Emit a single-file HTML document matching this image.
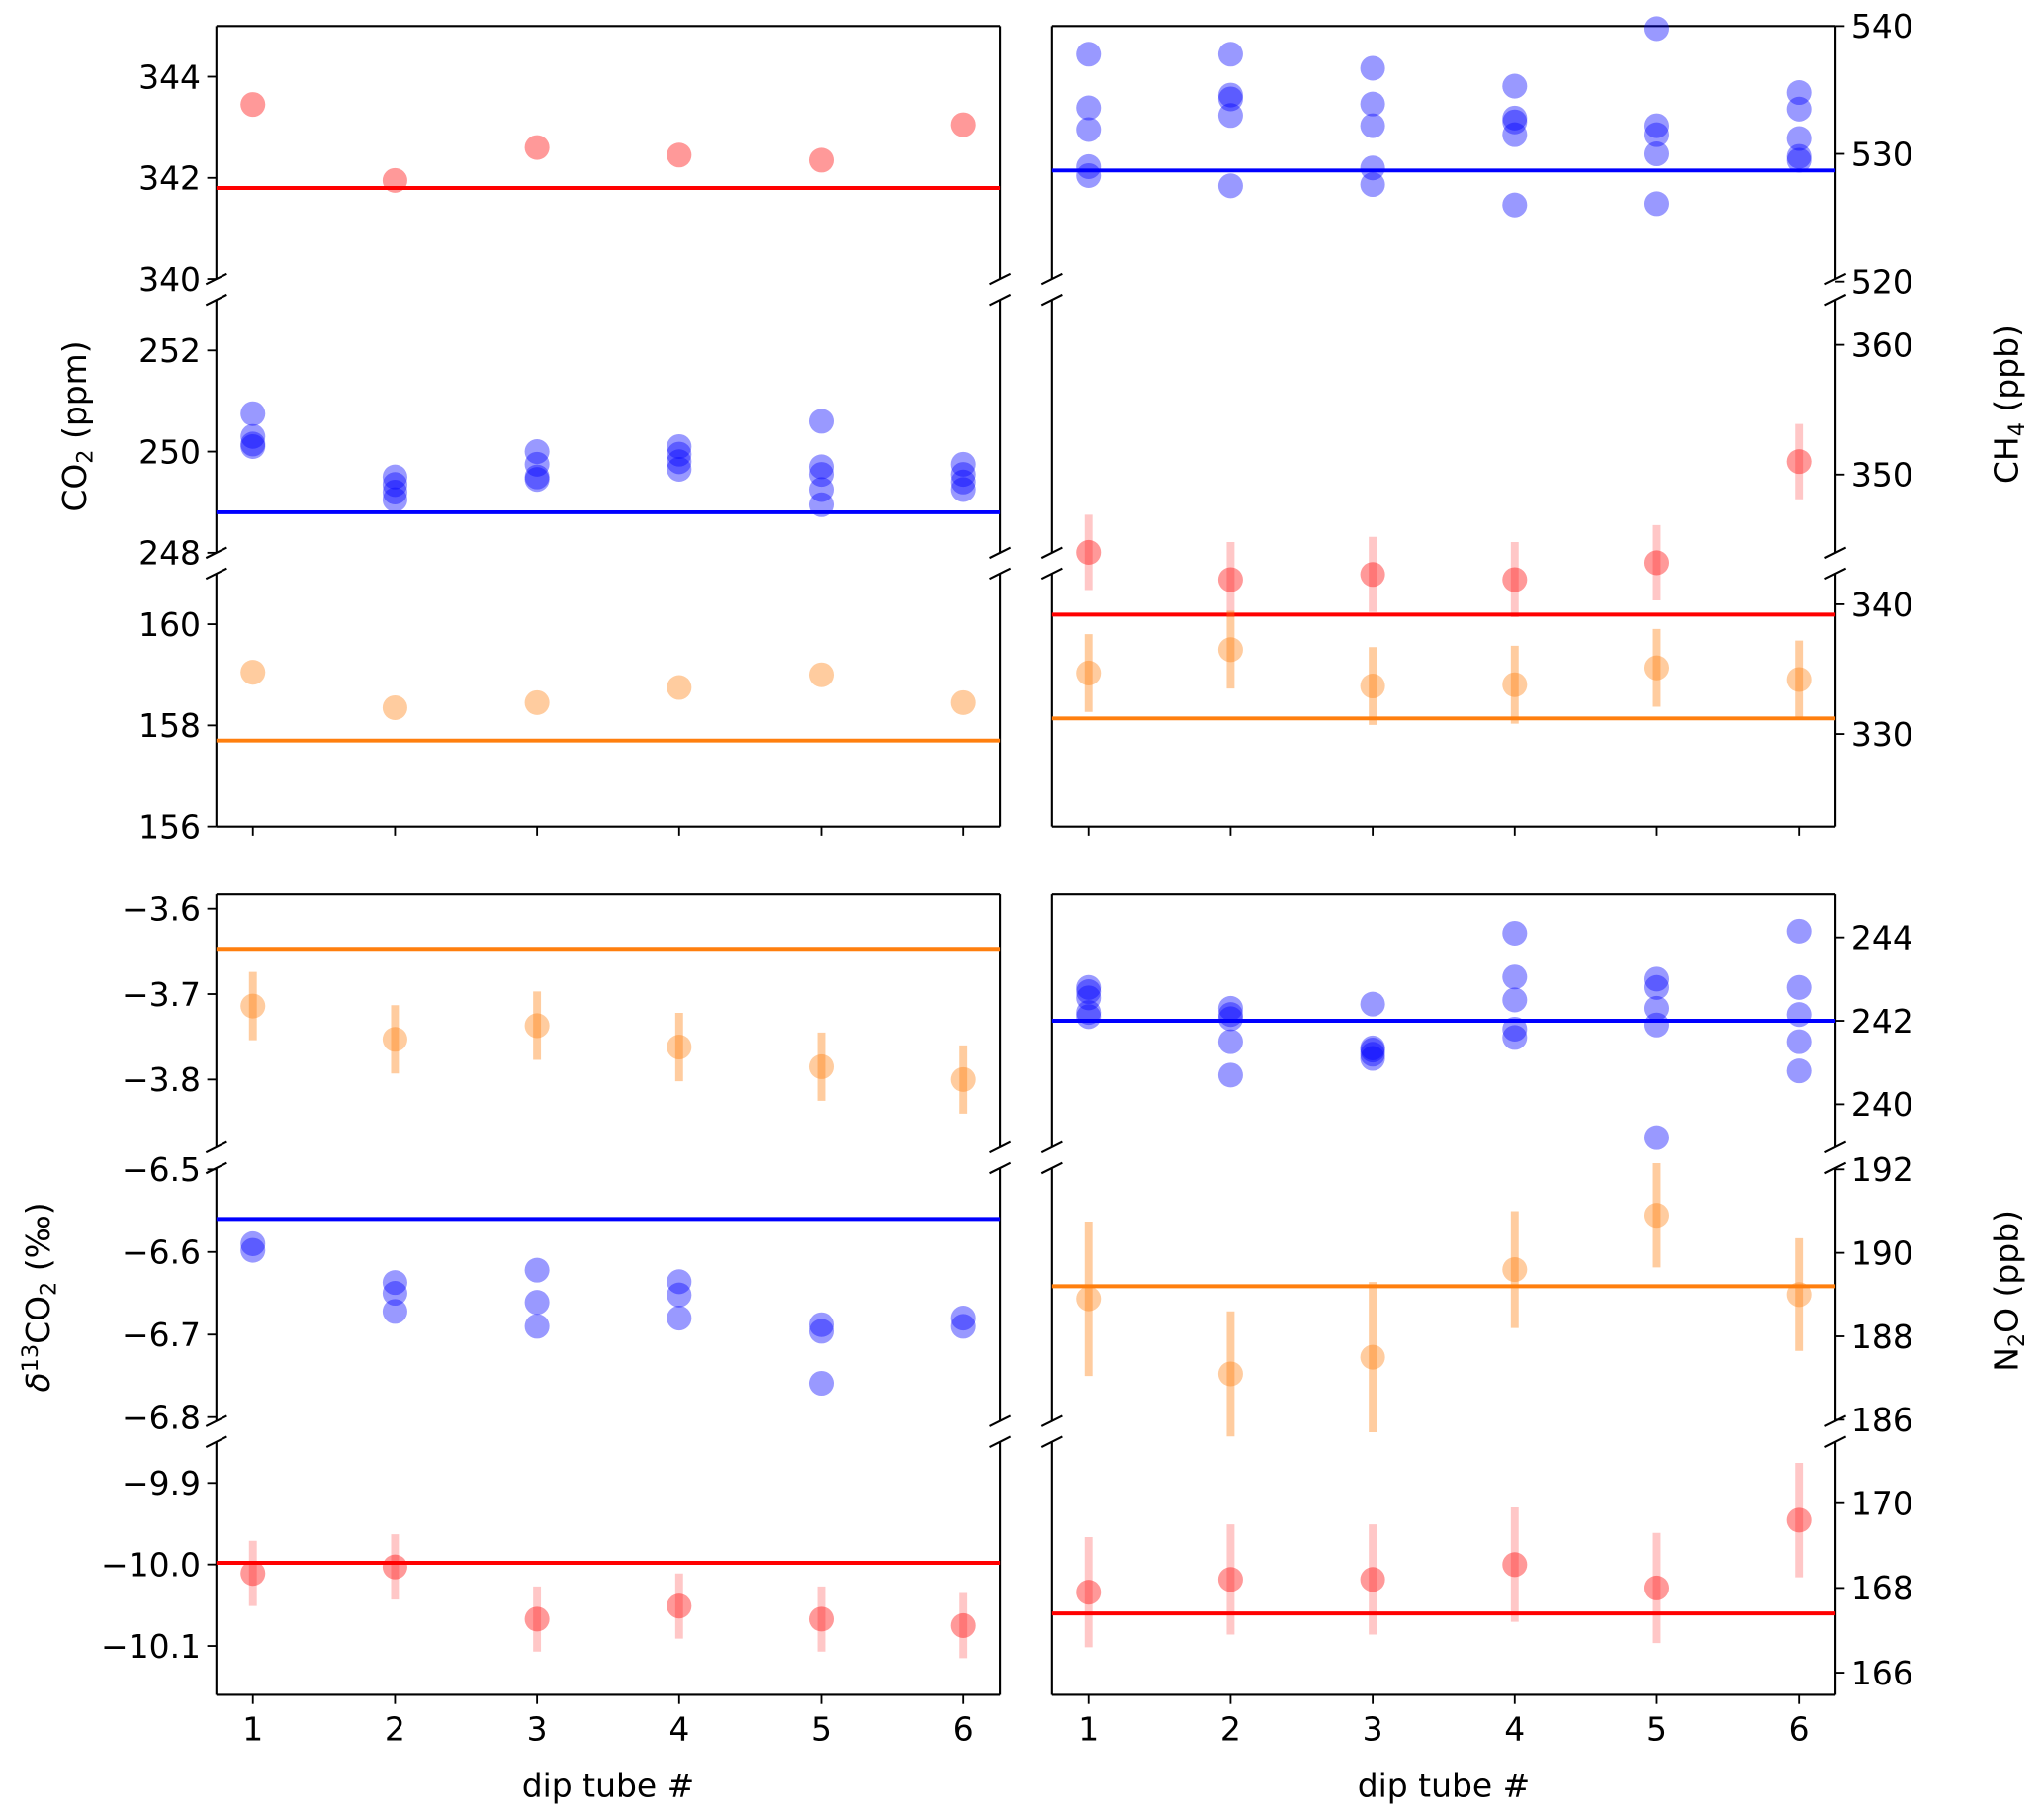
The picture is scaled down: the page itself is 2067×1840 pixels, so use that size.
<!DOCTYPE html>
<html><head><meta charset="utf-8"><style>
html,body{margin:0;padding:0;background:#fff}
svg{display:block}
text{font-family:"DejaVu Sans","Liberation Sans",sans-serif;fill:#000}
</style></head><body>
<svg id="fig" width="2067" height="1840" viewBox="0 0 1568 1396" preserveAspectRatio="none" xmlns="http://www.w3.org/2000/svg"></svg>
<script>
const tubes=[1,2,3,4,5,6];
// CO2 (ppm)
const co2High=[343.45,341.95,342.6,342.45,342.35,343.05];
const co2HighRef=341.8;
const co2Mid=[[250.75,250.3,250.15,250.1],[249.5,249.35,249.2,249.05],[250.0,249.75,249.5,249.45],[250.1,249.95,249.8,249.65],[250.6,249.7,249.55,249.25,248.95],[249.75,249.55,249.4,249.25]];
const co2MidRef=248.8;
const co2Low=[159.05,158.35,158.45,158.75,159.0,158.45];
const co2LowRef=157.7;
// CH4 (ppb)
const ch4High=[[537.8,533.6,531.9,529,528.3],[537.8,534.6,534.3,533,527.5],[536.7,533.9,532.2,528.9,527.6],[535.3,532.8,532.5,531.5,526],[539.8,532.2,531.5,530,526.1],[534.8,533.5,531.2,529.8,529.5]];
const ch4HighRef=528.7;
const ch4Red=[344.0,341.9,342.3,341.9,343.2,351.0];
const ch4RedErr=[2.9,2.9,2.9,2.9,2.9,2.9];
const ch4RedRef=339.2;
const ch4Orange=[334.7,336.5,333.7,333.8,335.1,334.2];
const ch4OrangeErr=[3.0,3.0,3.0,3.0,3.0,3.0];
const ch4OrangeRef=331.2;
// d13CO2
const d13High=[-3.714,-3.753,-3.737,-3.762,-3.785,-3.80];
const d13HighErr=[0.04,0.04,0.04,0.04,0.04,0.04];
const d13HighRef=-3.647;
const d13Mid=[[-6.59,-6.598],[-6.637,-6.65,-6.672],[-6.622,-6.661,-6.69],[-6.636,-6.652,-6.68],[-6.688,-6.696,-6.759],[-6.68,-6.69]];
const d13MidRef=-6.56;
const d13Low=[-10.011,-10.003,-10.067,-10.051,-10.067,-10.075];
const d13LowErr=[0.04,0.04,0.04,0.04,0.04,0.04];
const d13LowRef=-9.998;
// N2O
const n2oHigh=[[242.8,242.7,242.55,242.2,242.1],[242.3,242.15,242.05,241.5,240.7],[242.4,241.35,241.3,241.2,241.1],[244.1,243.05,242.5,241.8,241.6],[243.0,242.8,242.3,241.9,239.2],[244.15,242.8,242.15,241.5,240.8]];
const n2oHighRef=242.0;
const n2oMid=[188.9,187.1,187.5,189.6,190.9,189.0];
const n2oMidErr=[1.85,1.5,1.8,1.4,1.25,1.35];
const n2oMidRef=189.2;
const n2oLow=[167.9,168.2,168.2,168.55,168.0,169.6];
const n2oLowErr=[1.3,1.3,1.3,1.35,1.3,1.35];
const n2oLowRef=167.4;

const ticksCo2=[[340,342,344],[248,250,252],[156,158,160]];
const ticksCh4=[[520,530,540],[350,360],[330,340]];
const ticksD13=[[-3.8,-3.7,-3.6],[-6.8,-6.7,-6.6,-6.5],[-10.1,-10.0,-9.9]];
const ticksN2o=[[240,242,244],[186,188,190,192],[166,168,170]];

const NS="http://www.w3.org/2000/svg";
const svg=document.getElementById('fig');
const RED='#ff0000',BLUE='#0000ff',ORG='#ff7f0e';
function mk(tag,attrs,parent){const e=document.createElementNS(NS,tag);for(const k in attrs)e.setAttribute(k,attrs[k]);(parent||svg).appendChild(e);return e;}

const COLS={L:[166,767],R:[807,1408]};
function xs(col){const [a]=COLS[col];const x0=a+28;return v=>x0+(v-1)*109;}
function lin(v0,p0,v1,p1){return v=>p0+(v-v0)*(p1-p0)/(v1-v0);}

function subPanel(name,col,y0,y1,top,bottom,side,ys,ticks,fmt){
  const [xa,xb]=COLS[col];
  const g=mk('g',{});
  
  
  const s1=mk('line',{x1:xa,y1:y0,x2:xa,y2:y1,stroke:'#000','stroke-width':1.6},g);
  
  const s2=mk('line',{x1:xb,y1:y0,x2:xb,y2:y1,stroke:'#000','stroke-width':1.6},g);
  
  if(top){const t=mk('line',{x1:xa,y1:y0,x2:xb,y2:y0,stroke:'#000','stroke-width':1.6},g);}
  else{[xa,xb].forEach(x=>{const b=mk('line',{x1:x-8,y1:y0+4,x2:x+8,y2:y0-4,stroke:'#000','stroke-width':1.6},g);});}
  if(bottom){const t=mk('line',{x1:xa,y1:y1,x2:xb,y2:y1,stroke:'#000','stroke-width':1.6},g);}
  else{[xa,xb].forEach(x=>{const b=mk('line',{x1:x-8,y1:y1+4,x2:x+8,y2:y1-4,stroke:'#000','stroke-width':1.6},g);});}
  ticks.forEach(v=>{const y=ys(v);
    const xe=side==='L'?xa:xb, d=side==='L'?-7:7;
    const tl=mk('line',{x1:xe,y1:y,x2:xe+d,y2:y,stroke:'#000','stroke-width':1.4},g);
    
    const tx=mk('text',{x:side==='L'?xa-12:xb+12,y:y+9,'font-size':25,'text-anchor':side==='L'?'end':'start'},g);
    
    tx.textContent=fmt(v).replace('-','\u2212');});
  return g;
}
function refLine(col,ys,v,color){const [xa,xb]=COLS[col];const l=mk('line',{x1:xa,x2:xb,y1:ys(v),y2:ys(v),stroke:color,'stroke-width':3});
  }
function dot(x,y,color){const c=mk('circle',{cx:x,cy:y,r:9.5,fill:color,'fill-opacity':0.4});
  }
function errbar(x,ya,yb,color){const l=mk('line',{x1:x,x2:x,y1:ya,y2:yb,stroke:color,'stroke-width':6,'stroke-opacity':color===ORG?0.4:0.22});
  }
function single(col,ys,vals,errs,color){const X=xs(col);vals.forEach((v,i)=>{if(errs)errbar(X(tubes[i]),ys(v-errs[i]),ys(v+errs[i]),color);dot(X(tubes[i]),ys(v),color);});}
function multi(col,ys,vals,color){const X=xs(col);vals.forEach((arr,i)=>arr.forEach(v=>dot(X(tubes[i]),ys(v),color)));}
function xAxis(col,y,labels){const X=xs(col);tubes.forEach(t=>{
  const l=mk('line',{x1:X(t),x2:X(t),y1:y,y2:y+7,stroke:'#000','stroke-width':1.4});
  
  if(labels){const tx=mk('text',{x:X(t),y:y+35,'font-size':25,'text-anchor':'middle'});
    tx.textContent=t;}});
  if(labels){const [a,b]=COLS[col];const tx=mk('text',{x:(a+b)/2,y:y+78,'font-size':25,'text-anchor':'middle'});
    tx.textContent='dip tube #';}}
const f0=v=>String(v), f1=v=>v.toFixed(1);

// Top-left CO2
const yC1=lin(340,214,345,20), yC2=lin(248,424,253,230), yC3=lin(156,634,161,440);
subPanel('co2-high-panel','L',20,214,true,false,'L',yC1,ticksCo2[0],f0);
subPanel('co2-mid-panel','L',230,424,false,false,'L',yC2,ticksCo2[1],f0);
subPanel('co2-low-panel','L',440,634,false,true,'L',yC3,ticksCo2[2],f0);
refLine('L',yC1,co2HighRef,RED);single('L',yC1,co2High,null,RED);
refLine('L',yC2,co2MidRef,BLUE);multi('L',yC2,co2Mid,BLUE);
refLine('L',yC3,co2LowRef,ORG);single('L',yC3,co2Low,null,ORG);
xAxis('L',634,false);

// Top-right CH4
const yH1=lin(520,216,540,20), yHL=lin(330,563,350,364);
subPanel('ch4-high-panel','R',20,214,true,false,'R',yH1,ticksCh4[0],f0);
subPanel('ch4-mid-panel','R',230,424,false,false,'R',yHL,ticksCh4[1],f0);
subPanel('ch4-low-panel','R',440,634,false,true,'R',yHL,ticksCh4[2],f0);
refLine('R',yH1,ch4HighRef,BLUE);multi('R',yH1,ch4High,BLUE);
refLine('R',yHL,ch4RedRef,RED);single('R',yHL,ch4Red,ch4RedErr,RED);
refLine('R',yHL,ch4OrangeRef,ORG);single('R',yHL,ch4Orange,ch4OrangeErr,ORG);
xAxis('R',634,false);

// Bottom-left d13C
const yD1=lin(-3.6,697,-3.8,828), yD2=lin(-6.5,897,-6.8,1087), yD3=lin(-10.0,1200,-10.1,1262.5);
subPanel('d13c-high-panel','L',686,880,true,false,'L',yD1,ticksD13[0],f1);
subPanel('d13c-mid-panel','L',896,1090,false,false,'L',yD2,ticksD13[1],f1);
subPanel('d13c-low-panel','L',1106,1300,false,true,'L',yD3,ticksD13[2],f1);
refLine('L',yD1,d13HighRef,ORG);single('L',yD1,d13High,d13HighErr,ORG);
refLine('L',yD2,d13MidRef,BLUE);multi('L',yD2,d13Mid,BLUE);
refLine('L',yD3,d13LowRef,RED);single('L',yD3,d13Low,d13LowErr,RED);
xAxis('L',1300,true);

// Bottom-right N2O
const yN1=lin(242,783,244,719), yN2=lin(192,897,186,1089), yN3=lin(168,1218,170,1153);
subPanel('n2o-high-panel','R',686,880,true,false,'R',yN1,ticksN2o[0],f0);
subPanel('n2o-mid-panel','R',896,1090,false,false,'R',yN2,ticksN2o[1],f0);
subPanel('n2o-low-panel','R',1106,1300,false,true,'R',yN3,ticksN2o[2],f0);
refLine('R',yN1,n2oHighRef,BLUE);multi('R',yN1,n2oHigh,BLUE);
refLine('R',yN2,n2oMidRef,ORG);single('R',yN2,n2oMid,n2oMidErr,ORG);
refLine('R',yN3,n2oLowRef,RED);single('R',yN3,n2oLow,n2oLowErr,RED);
xAxis('R',1300,true);

// Axis titles
function ylab(name,x,y,html){const t=mk('text',{x:x,y:y,'font-size':25,'text-anchor':'middle',transform:`rotate(-90 ${x} ${y})`});
  t.innerHTML=html;}
ylab('co2-axis-title',66,327,'CO<tspan font-size="17" dy="5">2</tspan><tspan dy="-5"> (ppm)</tspan>');
ylab('ch4-axis-title',1548,310,'CH<tspan font-size="17" dy="5">4</tspan><tspan dy="-5"> (ppb)</tspan>');
ylab('d13c-axis-title',38,995,'<tspan font-style="italic">δ</tspan><tspan font-size="17" dy="-9">13</tspan><tspan dy="9">CO</tspan><tspan font-size="17" dy="5">2</tspan><tspan dy="-5"> (‰)</tspan>');
ylab('n2o-axis-title',1548,990,'N<tspan font-size="17" dy="5">2</tspan><tspan dy="-5">O (ppb)</tspan>');
</script>
</body></html>
